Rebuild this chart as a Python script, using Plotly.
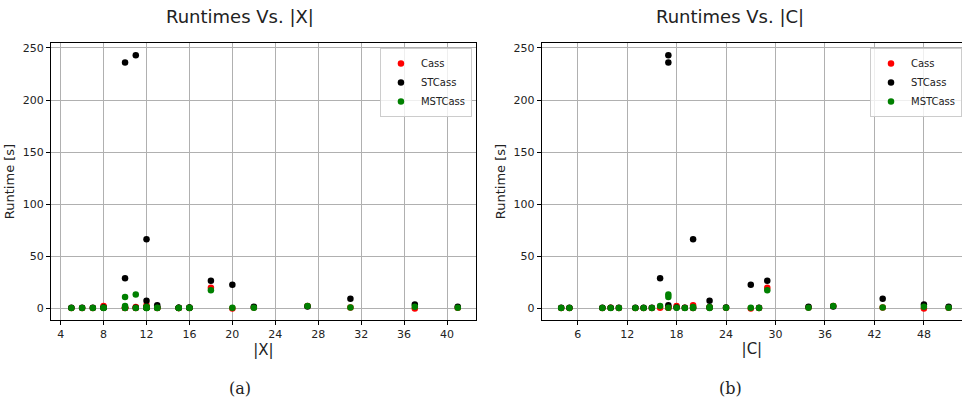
import plotly.graph_objects as go

# One entry per instance: |X|, |C|, and runtimes [s] of the three solvers
x_size = [5, 6, 7, 8, 8, 10, 11, 10, 10, 12, 12, 13, 13, 15, 16, 18, 20, 22, 27, 31, 37, 41, 12, 16, 15, 11, 12]
c_size = [4, 5, 9, 18, 10, 17, 17, 16, 11, 20, 22, 17, 13, 14, 15, 29, 27, 34, 37, 43, 48, 51, 19, 24, 28, 20, 22]
cass   = [0.1, 0.1, 0.1, 2.0, 0.2, 0.3, 1.0, 0.2, 0.1, 2.6, 1.0, 0.3, 0.1, 0.1, 0.1, 19.6, -0.5, 0.5, 2.0, 0.5, -0.5, 0.3, 0.2, 0.2, 0.1, 0.0, 0.2]
stcass = [0.2, 0.2, 0.2, 0.5, 0.3, 236.0, 243.0, 28.6, 0.3, 66.2, 7.1, 2.6, 0.2, 0.2, 0.2, 26.3, 22.5, 1.3, 1.5, 9.0, 3.5, 1.3, 0.3, 0.4, 0.2, 0.3, 0.4]
mstcass = [0.1, 0.1, 0.1, 0.3, 0.1, 10.6, 12.9, 2.0, 0.1, 1.0, 1.0, 0.2, 0.1, 0.1, 0.1, 17.0, 0.3, 0.3, 2.0, 0.6, 1.3, 0.2, 0.1, 0.2, 0.1, 0.1, 0.1]

series = [("Cass", cass, "#ff0000"), ("STCass", stcass, "#000000"), ("MSTCass", mstcass, "#008000")]
x_ticks = [4, 8, 12, 16, 20, 24, 28, 32, 36, 40]
c_ticks = [6, 12, 18, 24, 30, 36, 42, 48]
y_ticks = [0, 50, 100, 150, 200, 250]

fig = go.Figure()
for name, vals, col in series:
    fig.add_trace(go.Scatter(x=x_size, y=vals, mode="markers", name=name,
                             marker=dict(color=col, size=6.5, line=dict(width=0)),
                             xaxis="x", yaxis="y", legend="legend"))
for name, vals, col in series:
    fig.add_trace(go.Scatter(x=c_size, y=vals, mode="markers", name=name,
                             marker=dict(color=col, size=6.5, line=dict(width=0)),
                             xaxis="x2", yaxis="y2", legend="legend2"))

tickfont = dict(family="DejaVu Sans", size=11, color="#222")
common_axis = dict(showline=True, mirror=True, linecolor="black", linewidth=1,
                   showgrid=True, gridcolor="#b0b0b0", gridwidth=1, zeroline=False,
                   ticks="outside", ticklen=4, tickcolor="black", tickfont=tickfont,
                   automargin=False)

legend_style = dict(bgcolor="rgba(255,255,255,0.8)", bordercolor="#cccccc", borderwidth=1,
                    font=dict(family="DejaVu Sans", size=10, color="#222"),
                    xanchor="right", yanchor="top", tracegroupgap=0, itemwidth=30)

fig.update_layout(
    width=962, height=400,
    margin=dict(l=0, r=0, t=0, b=0, autoexpand=False),
    paper_bgcolor="white", plot_bgcolor="white",
    font=dict(family="DejaVu Sans", color="#222"),
    xaxis=dict(domain=[0.053, 0.4948], range=[3.1, 42.7], tickvals=x_ticks, anchor="y",
               title=dict(text="|X|", font=dict(size=15, color="#222"), standoff=3), **common_axis),
    yaxis=dict(domain=[0.2, 0.8925], range=[-11.5, 254.8], tickvals=y_ticks, anchor="x",
               title=dict(text="Runtime [s]", font=dict(size=13, color="#222"), standoff=5), **common_axis),
    xaxis2=dict(domain=[0.5632, 1.0], range=[1.65, 52.62], tickvals=c_ticks, anchor="y2",
                title=dict(text="|C|", font=dict(size=15, color="#222"), standoff=3), **common_axis),
    yaxis2=dict(domain=[0.2, 0.8925], range=[-11.5, 254.8], tickvals=y_ticks, anchor="x2",
                title=dict(text="Runtime [s]", font=dict(size=13, color="#222"), standoff=5), **common_axis),
    legend=dict(x=0.4906, y=0.88, **legend_style),
    legend2=dict(x=1.0, y=0.88, **legend_style),
    annotations=[
        dict(text="Runtimes Vs. |X|", x=240/962, y=1-16/400, xref="paper", yref="paper",
             xanchor="center", yanchor="middle",
             showarrow=False, font=dict(family="DejaVu Sans", size=18, color="#222")),
        dict(text="Runtimes Vs. |C|", x=730/962, y=1-16/400, xref="paper", yref="paper",
             xanchor="center", yanchor="middle",
             showarrow=False, font=dict(family="DejaVu Sans", size=18, color="#222")),
        dict(text="(a)", x=240/962, y=1-388/400, xref="paper", yref="paper",
             xanchor="center", yanchor="middle",
             showarrow=False, font=dict(family="DejaVu Serif", size=16, color="#222")),
        dict(text="(b)", x=730/962, y=1-388/400, xref="paper", yref="paper",
             xanchor="center", yanchor="middle",
             showarrow=False, font=dict(family="DejaVu Serif", size=16, color="#222")),
    ],
)

fig.write_html("out.html", config={"displayModeBar": False},
               post_script="document.body.style.margin='0';document.body.style.overflow='hidden';")
